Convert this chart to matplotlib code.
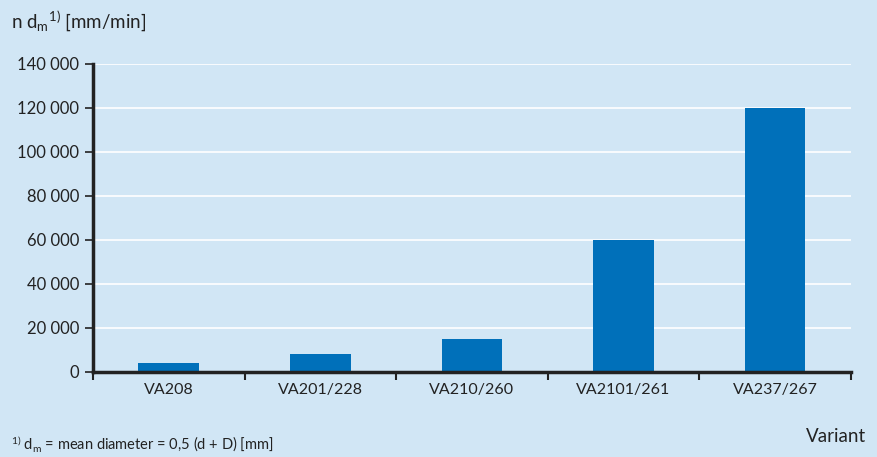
import matplotlib
matplotlib.use("Agg")
import matplotlib.pyplot as plt
from matplotlib.ticker import FuncFormatter, FixedLocator

categories = ["VA208", "VA201/228", "VA210/260", "VA2101/261", "VA237/267"]
values = [4000, 8000, 15000, 60000, 120000]
yticks = [0, 20000, 40000, 60000, 80000, 100000, 120000, 140000]

bg = "#D1E6F5"
bar_color = "#0070BA"
text_color = "#222222"

plt.rcParams['font.family'] = ['Lato', 'DejaVu Sans']
plt.rcParams['mathtext.fontset'] = 'custom'
plt.rcParams['mathtext.rm'] = 'Lato'
plt.rcParams['mathtext.it'] = 'Lato'

fig = plt.figure(figsize=(8.77, 4.57), dpi=100, facecolor=bg)
ax = fig.add_axes([0.106, 0.186, 0.864, 0.674])
ax.set_facecolor(bg)

x = list(range(len(categories)))
ax.bar(x, values, width=0.4, color=bar_color, zorder=3)

ax.set_xlim(-0.5, len(categories) - 0.5)
ax.set_ylim(0, 140000)
ax.set_yticks(yticks)
ax.yaxis.set_major_formatter(FuncFormatter(lambda v, p: f"{int(v):,}".replace(",", " ")))
ax.grid(axis='y', color='white', linewidth=1.2, zorder=1)
ax.set_axisbelow(True)

ax.set_xticks(x)
ax.set_xticklabels(categories)
ax.xaxis.set_minor_locator(FixedLocator([i - 0.5 for i in range(len(categories) + 1)]))
ax.tick_params(axis='x', which='major', length=0, pad=8, labelsize=11.5, labelcolor=text_color)
ax.tick_params(axis='x', which='minor', length=6, width=1.5, direction='out', color='#222222')
ax.tick_params(axis='y', which='major', length=6, width=1.2, direction='out', color='#222222',
               labelsize=12, labelcolor=text_color, pad=4)

for s in ['top', 'right']:
    ax.spines[s].set_visible(False)
for s in ['left', 'bottom']:
    ax.spines[s].set_linewidth(2.5)
    ax.spines[s].set_color('#222222')
    ax.spines[s].set_zorder(4)

fig.text(0.013, 0.955, r"n d$_{\mathrm{m}}$$^{1)}$ [mm/min]", fontsize=13.5, color=text_color, va='center', ha='left')
fig.text(0.987, 0.045, "Variant", fontsize=13.5, color=text_color, va='center', ha='right')
fig.text(0.013, 0.030, r"$^{1)}$ d$_{\mathrm{m}}$ = mean diameter = 0,5 (d + D) [mm]", fontsize=10.5, color=text_color, va='center', ha='left')

fig.savefig("out.png", dpi=100, facecolor=bg)
